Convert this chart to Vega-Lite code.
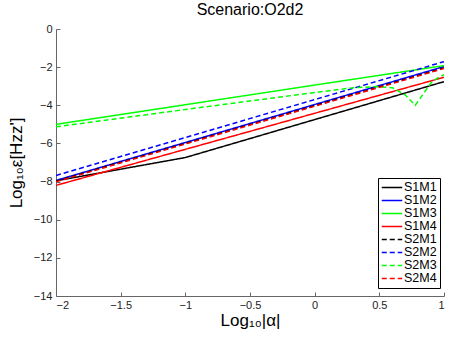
{
  "$schema": "https://vega.github.io/schema/vega-lite/v6.json",
  "width": 388,
  "height": 267,
  "autosize": "none",
  "padding": {"left": 56, "top": 29, "right": 6, "bottom": 42},
  "background": "white",
  "title": {"text": "Scenario:O2d2", "fontSize": 16, "font": "Liberation Sans", "fontWeight": "normal", "color": "#000000", "offset": 5, "anchor": "middle"},
  "config": {"view": {"stroke": null}},
  "data": {"values": [
    {"series": "S1M1", "x": -2, "y": -7.96},
    {"series": "S1M1", "x": -1, "y": -6.74},
    {"series": "S1M1", "x": 0, "y": -4.75},
    {"series": "S1M1", "x": 1, "y": -2.76},
    {"series": "S1M2", "x": -2, "y": -7.94},
    {"series": "S1M2", "x": -1, "y": -5.95},
    {"series": "S1M2", "x": 0, "y": -3.96},
    {"series": "S1M2", "x": 1, "y": -1.97},
    {"series": "S1M3", "x": -2, "y": -5.0},
    {"series": "S1M3", "x": -1, "y": -3.97},
    {"series": "S1M3", "x": 0, "y": -2.94},
    {"series": "S1M3", "x": 1, "y": -1.92},
    {"series": "S1M4", "x": -2, "y": -8.2},
    {"series": "S1M4", "x": -1, "y": -6.31},
    {"series": "S1M4", "x": 0, "y": -4.42},
    {"series": "S1M4", "x": 1, "y": -2.53},
    {"series": "S2M1", "x": -2, "y": -7.98},
    {"series": "S2M1", "x": -1, "y": -6.0},
    {"series": "S2M1", "x": 0, "y": -4.02},
    {"series": "S2M1", "x": 1, "y": -2.04},
    {"series": "S2M2", "x": -2, "y": -7.68},
    {"series": "S2M2", "x": -1, "y": -5.69},
    {"series": "S2M2", "x": 0, "y": -3.7},
    {"series": "S2M2", "x": 1, "y": -1.71},
    {"series": "S2M3", "x": -2, "y": -5.13},
    {"series": "S2M3", "x": -1, "y": -4.22},
    {"series": "S2M3", "x": 0, "y": -3.33},
    {"series": "S2M3", "x": 0.301, "y": -3.08},
    {"series": "S2M3", "x": 0.477, "y": -3.02},
    {"series": "S2M3", "x": 0.602, "y": -3.08},
    {"series": "S2M3", "x": 0.699, "y": -3.45},
    {"series": "S2M3", "x": 0.778, "y": -4.0},
    {"series": "S2M3", "x": 0.845, "y": -3.35},
    {"series": "S2M3", "x": 0.903, "y": -2.8},
    {"series": "S2M3", "x": 0.954, "y": -2.55},
    {"series": "S2M3", "x": 1, "y": -2.4},
    {"series": "S2M4", "x": -2, "y": -8.01},
    {"series": "S2M4", "x": -1, "y": -6.03},
    {"series": "S2M4", "x": 0, "y": -4.05},
    {"series": "S2M4", "x": 1, "y": -2.07}
  ]},
  "mark": {"type": "line", "strokeWidth": 1.5, "clip": true},
  "encoding": {
    "x": {
      "field": "x", "type": "quantitative",
      "scale": {"domain": [-2, 1], "nice": false, "zero": false},
      "axis": {
        "values": [-2, -1.5, -1, -0.5, 0, 0.5, 1],
        "format": "~g",
        "title": "Log₁₀|α|",
        "titleFont": "Liberation Sans", "titleFontSize": 17, "titleFontWeight": "normal", "titleColor": "#000000",
        "titlePadding": 2,
        "labelFont": "Liberation Sans", "labelFontSize": 11, "labelColor": "#222222",
        "labelPadding": 7,
        "tickSize": -4, "tickColor": "#666666", "domainColor": "#666666",
        "grid": false
      }
    },
    "y": {
      "field": "y", "type": "quantitative",
      "scale": {"domain": [-14, 0], "nice": false, "zero": false},
      "axis": {
        "values": [0, -2, -4, -6, -8, -10, -12, -14],
        "title": "Log₁₀ε[Hzz']",
        "titleFont": "Liberation Sans", "titleFontSize": 17, "titleFontWeight": "normal", "titleColor": "#000000",
        "titlePadding": 8,
        "labelFont": "Liberation Sans", "labelFontSize": 11, "labelColor": "#222222",
        "labelPadding": 8,
        "tickSize": -4, "tickColor": "#666666", "domainColor": "#666666",
        "grid": false
      }
    },
    "color": {
      "field": "series", "type": "nominal",
      "scale": {
        "domain": ["S1M1", "S1M2", "S1M3", "S1M4", "S2M1", "S2M2", "S2M3", "S2M4"],
        "range": ["#000000", "#0000ff", "#00ff00", "#ff0000", "#000000", "#0000ff", "#00ff00", "#ff0000"]
      },
      "legend": {
        "title": null,
        "orient": "none",
        "legendX": 322,
        "legendY": 149,
        "strokeColor": "#000000",
        "fillColor": "#ffffff",
        "padding": 3,
        "rowPadding": 0,
        "clipHeight": 12.8,
        "symbolType": "stroke",
        "symbolSize": 420,
        "symbolStrokeWidth": 1.5,
        "labelFont": "Liberation Sans", "labelFontSize": 12.5, "labelColor": "#000000",
        "labelOffset": 1
      }
    },
    "strokeDash": {
      "field": "series", "type": "nominal",
      "scale": {
        "domain": ["S1M1", "S1M2", "S1M3", "S1M4", "S2M1", "S2M2", "S2M3", "S2M4"],
        "range": [[1, 0], [1, 0], [1, 0], [1, 0], [5, 3], [5, 3], [5, 3], [5, 3]]
      },
      "legend": null
    },
    "order": {"field": "x", "type": "quantitative"}
  }
}
